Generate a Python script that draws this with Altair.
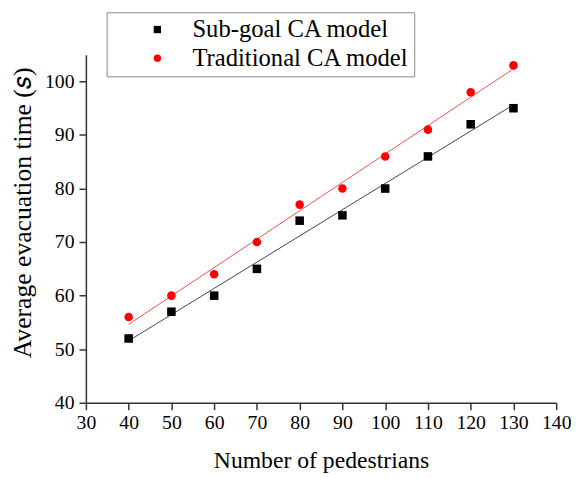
import altair as alt
import pandas as pd

pedestrians = [40, 50, 60, 70, 80, 90, 100, 110, 120, 130]
subgoal = [52, 57, 60, 65, 74, 75, 80, 86, 92, 95]
traditional = [56, 60, 64, 70, 77, 80, 86, 91, 98, 103]
series_names = ["Sub-goal CA model", "Traditional CA model"]
point_colors = ["black", "#ff0000"]
line_colors = ["#444444", "#f05050"]
x_ticks = [30, 40, 50, 60, 70, 80, 90, 100, 110, 120, 130, 140]
y_ticks = [40, 45, 50, 55, 60, 65, 70, 75, 80, 85, 90, 95, 100, 105]

rows = []
for n, a, b in zip(pedestrians, subgoal, traditional):
    rows.append({"n": n, "t": a, "series": series_names[0]})
    rows.append({"n": n, "t": b, "series": series_names[1]})
df = pd.DataFrame(rows)

FONT = "Liberation Serif"

x_enc = alt.X("n:Q", scale=alt.Scale(domain=[30, 140], nice=False, zero=False),
              axis=alt.Axis(values=x_ticks, title="Number of pedestrians", grid=False,
                            tickSize=7, labelPadding=3, titlePadding=17,
                            labelFontSize=20, titleFontSize=24,
                            labelFont=FONT, titleFont=FONT, titleFontWeight="normal",
                            labelColor="black", titleColor="black",
                            domainColor="#333", tickColor="#333",
                            domainWidth=1.5, tickWidth=1.5, labelFlush=False))
y_enc = alt.Y("t:Q", scale=alt.Scale(domain=[40, 105], nice=False, zero=False),
              axis=alt.Axis(values=y_ticks, title="Average evacuation time (𝑠)", grid=False,
                            tickSize={"condition": {"test": "datum.value % 10 !== 0", "value": 3}, "value": 7},
                            labelExpr="datum.value % 10 === 0 ? datum.label : ''",
                            labelPadding=5, titlePadding=9,
                            labelFontSize=20, titleFontSize=26,
                            labelFont=FONT, titleFont=FONT, titleFontWeight="normal",
                            labelColor="black", titleColor="black",
                            domainColor="#333", tickColor="#333",
                            domainWidth=1.5, tickWidth=1.5, titleY=160, labelFlush=False))

legend = alt.Legend(title=None, orient="none", legendX=21, legendY=-43,
                    strokeColor="#888", fillColor="white", padding=5,
                    labelFont=FONT, labelFontSize=25, labelColor="black", labelLimit=0,
                    symbolSize=55, symbolOffset=34, labelOffset=23, rowPadding=3)

points = alt.Chart(df).mark_point(filled=True, opacity=1, size=75).encode(
    x=x_enc,
    y=y_enc,
    color=alt.Color("series:N", scale=alt.Scale(domain=series_names, range=point_colors),
                    legend=legend),
    shape=alt.Shape("series:N", scale=alt.Scale(domain=series_names, range=["square", "circle"]),
                    legend=legend),
)

line_layers = []
for name, col in zip(series_names, line_colors):
    line_layers.append(
        alt.Chart(df).transform_filter(alt.datum.series == name)
        .transform_regression("n", "t", extent=[40, 130])
        .mark_line(strokeWidth=1, color=col)
        .encode(x="n:Q", y="t:Q")
    )

chart = alt.layer(*line_layers, points).properties(
    width=477, height=353,
    autosize=alt.AutoSizeParams(type="none"),
    padding={"left": 79, "top": 44, "right": 15, "bottom": 73},
).configure_view(stroke=None)

chart.save("out.html", embed_options={"renderer": "svg", "actions": False})
